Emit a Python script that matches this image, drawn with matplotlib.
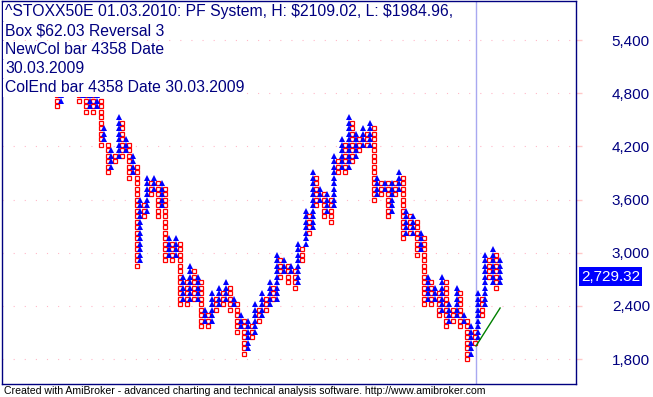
import matplotlib
matplotlib.use("Agg")
import matplotlib.pyplot as plt
from matplotlib.ticker import FuncFormatter

plt.rcParams["font.family"] = ["Liberation Sans", "DejaVu Sans"]

# point & figure columns, box levels counted from BASE_PRICE
BASE_PRICE = 1800.0
BOX_SIZE = 62.03

col_type = ("OXOXOXOXOXOXOXOXOXOXOXOXOXOXOXOXOXOXOXOXOXOXOXOXOXOXOXOXOXOXOX"
            "OXOXOXOXOXOXOXOXOXOXOXOXOXOXOXOXOXOXOXOXOXOXOXOXOXOXOXOXOXOXOX")
col_top = [48, 49, 50, 50, 50, 50, 50, 49, 48, 48, 48, 48, 47, 42, 39, 38, 37, 44, 43, 40,
           39, 37, 35, 29, 28, 33, 32, 33, 32, 32, 31, 22, 21, 22, 21, 15, 14, 17, 16, 15,
           14, 9, 8, 12, 11, 13, 12, 14, 13, 11, 10, 8, 7, 7, 6, 10, 9, 12, 11, 14,
           13, 19, 18, 18, 17, 17, 16, 21, 20, 27, 26, 34, 33, 31, 30, 30, 29, 37, 36, 40,
           39, 44, 43, 41, 40, 42, 41, 43, 42, 33, 32, 32, 32, 32, 32, 34, 33, 27, 26, 26,
           25, 23, 22, 15, 14, 13, 12, 15, 14, 10, 9, 13, 12, 8, 7, 6, 5, 12, 11, 19,
           18, 20, 19, 18]
col_bot = [46, 47, 49, 49, 49, 49, 47, 48, 45, 46, 45, 46, 39, 40, 34, 35, 36, 37, 37, 38,
           33, 34, 17, 18, 26, 27, 30, 31, 26, 28, 18, 19, 18, 19, 10, 11, 10, 11, 11, 11,
           6, 7, 6, 7, 9, 10, 10, 11, 9, 10, 5, 6, 1, 2, 4, 5, 7, 8, 9, 10,
           11, 11, 15, 16, 14, 16, 13, 14, 18, 21, 23, 24, 28, 29, 26, 27, 25, 28, 34, 35,
           34, 35, 36, 37, 38, 39, 39, 39, 29, 30, 30, 31, 26, 27, 30, 31, 22, 23, 23, 23,
           19, 20, 10, 11, 10, 11, 8, 9, 6, 7, 7, 8, 6, 7, 0, 1, 3, 4, 8, 10,
           15, 14, 13, 14]

y_ticks = [1800, 2400, 3000, 3600, 4200, 4800, 5400]
last_price = 2729.32
marker_col = 116.3
trend_x = [116.4, 123.1]
trend_y = [1949.0, 2377.0]

title_lines = [
    "^STOXX50E 01.03.2010: PF System, H: $2109.02, L: $1984.96,",
    "Box $62.03 Reversal 3",
    "NewCol bar 4358 Date",
    "30.03.2009",
    "ColEnd bar 4358 Date 30.03.2009",
]
footer = ("Created with AmiBroker - advanced charting and technical analysis "
          "software. http://www.amibroker.com")

NAVY = "#000080"
W, H = 653, 397

fig = plt.figure(figsize=(W / 100, H / 100), dpi=100)
ax = fig.add_axes([2 / W, (H - 384) / H, 574 / W, 383 / H])

xs_x, ys_x, xs_o, ys_o = [], [], [], []
for i, kind in enumerate(col_type):
    for lvl in range(col_bot[i], col_top[i] + 1):
        price = BASE_PRICE + lvl * BOX_SIZE
        if kind == "X":
            xs_x.append(i)
            ys_x.append(price)
        else:
            xs_o.append(i)
            ys_o.append(price)

for t in y_ticks:
    ax.axhline(t, color="#ffb8c8", lw=0.8, ls=(0, (1, 9)), zorder=0)
ax.axvline(marker_col, color="#a8a8f0", lw=1.0, zorder=1)

ax.plot(xs_o, ys_o, ls="none", marker="s", ms=2.6, mfc="white", mec="#ff0000",
        mew=0.9, zorder=2)
ax.plot(xs_x, ys_x, ls="none", marker="^", ms=3.8, color="#0000ff", mew=0, zorder=3)
ax.plot(trend_x, trend_y, color="#008000", lw=1.0, zorder=4)

ax.set_xlim(-15.4, 144.2)
ax.set_ylim(1520, 5840)
ax.set_xticks([])
ax.set_yticks(y_ticks)
ax.yaxis.tick_right()
ax.yaxis.set_major_formatter(FuncFormatter(lambda v, _: f"{v:,.0f}"))
ax.tick_params(axis="y", length=4.3, width=1, color="#ffc8c8", labelcolor=NAVY,
               labelsize=11, pad=21.5)
for sp in ax.spines.values():
    sp.set_color(NAVY)
    sp.set_linewidth(1.0)

ax.annotate(f"{last_price:,.2f}", xy=(1, last_price), xycoords=("axes fraction", "data"),
            xytext=(5, 0), textcoords="offset pixels", va="center", ha="left",
            color="white", fontsize=11,
            bbox=dict(boxstyle="square,pad=0.15", fc="#0000ff", ec="none"))

for k, line in enumerate(title_lines):
    fig.text(5 / W, 1 - (11.7 + 19 * k) / H, line, va="center", ha="left",
             color=NAVY, fontsize=11.3, zorder=10, parse_math=False,
             bbox=dict(boxstyle="square,pad=0.1", fc="white", ec="none"))

fig.text(4 / W, 1 - 391 / H, footer, va="center", ha="left", color="black",
         fontsize=7.6, parse_math=False)

fig.savefig("out.png", dpi=100)
